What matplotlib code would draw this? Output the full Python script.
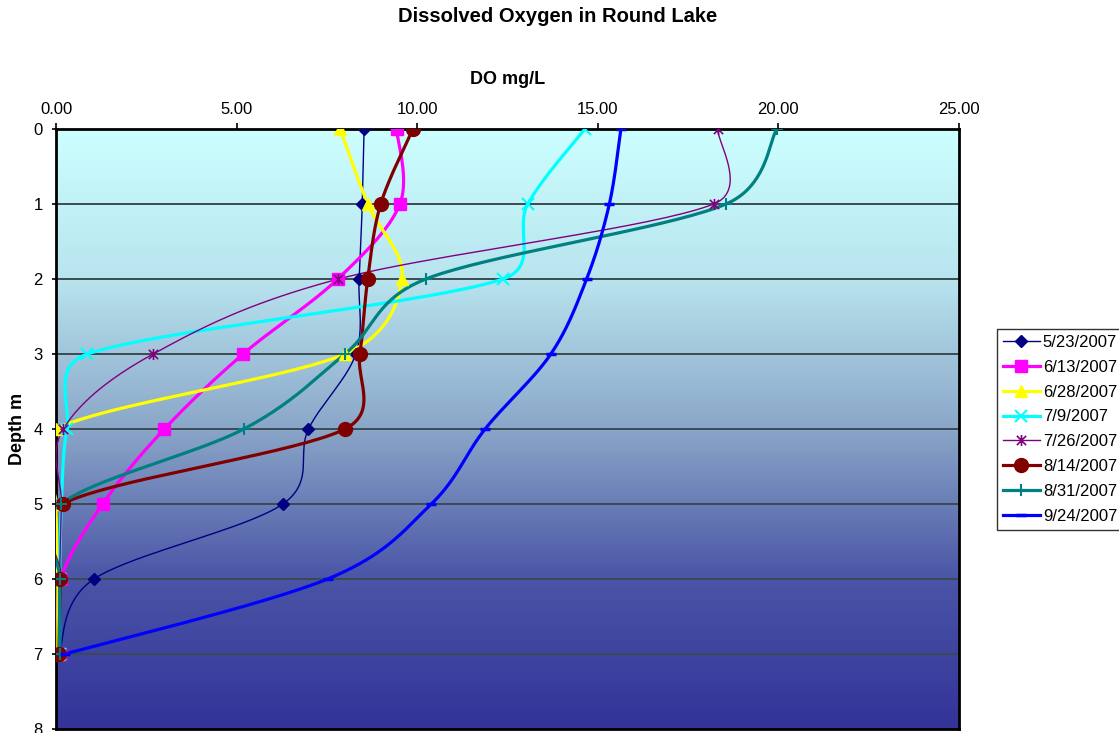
import numpy as np
import matplotlib.pyplot as plt
from matplotlib.colors import LinearSegmentedColormap
from matplotlib.path import Path

plt.rcParams["font.family"] = ["Liberation Sans", "DejaVu Sans"]

# Depth profile sampling (m)
depth = [0, 1, 2, 3, 4, 5, 6, 7]

# Dissolved oxygen readings (mg/L) per sampling date
dates = ["5/23/2007", "6/13/2007", "6/28/2007", "7/9/2007",
         "7/26/2007", "8/14/2007", "8/31/2007", "9/24/2007"]
do_0523 = [8.53, 8.48, 8.39, 8.30, 6.99, 6.28, 1.05, 0.08]
do_0613 = [9.43, 9.52, 7.80, 5.18, 3.00, 1.29, 0.14, 0.10]
do_0628 = [7.87, 8.63, 9.58, 8.00, 0.00, 0.00, 0.05, 0.05]
do_0709 = [14.64, 13.06, 12.37, 0.87, 0.30, 0.15, 0.10, 0.10]
do_0726 = [18.32, 18.21, 7.82, 2.69, 0.20, 0.15, 0.10, 0.10]
do_0814 = [9.88, 8.99, 8.63, 8.41, 8.00, 0.18, 0.12, 0.08]
do_0831 = [19.96, 18.55, 10.24, 8.00, 5.20, 0.14, 0.10, 0.10]
do_0924 = [15.64, 15.32, 14.69, 13.70, 11.88, 10.39, 7.52, 0.25]

series = [do_0523, do_0613, do_0628, do_0709, do_0726, do_0814, do_0831, do_0924]

# spreadsheet-style star: an x with a vertical stroke through it
star = Path([(-1, -1), (1, 1), (-1, 1), (1, -1), (0, -1.2), (0, 1.2)],
            [Path.MOVETO, Path.LINETO, Path.MOVETO, Path.LINETO, Path.MOVETO, Path.LINETO])

styles = [
    dict(color="#000080", lw=1.0, marker="D", ms=6),
    dict(color="#FF00FF", lw=2.3, marker="s", ms=9),
    dict(color="#FFFF00", lw=2.3, marker="^", ms=9),
    dict(color="#00FFFF", lw=2.3, marker="x", ms=8, mew=1.5),
    dict(color="#800080", lw=1.0, marker=star, ms=8, mew=1.2),
    dict(color="#800000", lw=2.3, marker="o", ms=10),
    dict(color="#008080", lw=2.3, marker="+", ms=9, mew=1.5),
    dict(color="#0000FF", lw=2.3, marker="_", ms=7, mew=2.5),
]

# screen scale (px per data unit) used when sizing the spline handles
PX_X, PX_Y = 36.1, 75.0


def smooth(xs, ys, n=40):
    """Bezier smoothing through every point; handle length capped at half the segment."""
    p = np.column_stack([np.asarray(xs) * PX_X, np.asarray(ys) * PX_Y]).astype(float)
    t = np.linspace(0, 1, n)[:, None]
    out = []
    for i in range(len(p) - 1):
        p1, p2 = p[i], p[i + 1]
        p0 = p[i - 1] if i > 0 else p1
        p3 = p[i + 2] if i + 2 < len(p) else p2
        d12 = np.hypot(*(p2 - p1))
        d02 = np.hypot(*(p2 - p0))
        d13 = np.hypot(*(p3 - p1))
        f1 = min(1 / 6, d12 / (2 * d02)) if d02 > 0 else 0.0
        f2 = min(1 / 6, d12 / (2 * d13)) if d13 > 0 else 0.0
        c1 = p1 + (p2 - p0) * f1
        c2 = p2 - (p3 - p1) * f2
        seg = (1 - t) ** 3 * p1 + 3 * (1 - t) ** 2 * t * c1 + 3 * (1 - t) * t ** 2 * c2 + t ** 3 * p2
        out.append(seg if i == 0 else seg[1:])
    out = np.vstack(out)
    return out[:, 0] / PX_X, out[:, 1] / PX_Y


fig = plt.figure(figsize=(11.19, 7.33), dpi=100)
ax = fig.add_axes([56 / 1119, 1 - 729 / 733, (959 - 56) / 1119, (729 - 129) / 733])

# gradient fill behind the plot area
cmap = LinearSegmentedColormap.from_list("lake", ["#CCFFFF", "#B8E4EE", "#8AA6C8", "#4A55A6", "#333399"])
grad = np.linspace(0, 1, 256).reshape(-1, 1)
ax.imshow(grad, cmap=cmap, aspect="auto", extent=[0, 25, 8, 0], zorder=0)

for d in range(1, 8):
    ax.axhline(d, color="#3c4a52", lw=1.4, zorder=1)

handles = []
for vals, label, st in zip(series, dates, styles):
    sx, sy = smooth(vals, depth)
    ax.plot(sx, sy, color=st["color"], lw=st["lw"], zorder=3)
    ax.plot(vals, depth, ls="none", marker=st["marker"], ms=st["ms"],
            color=st["color"], mec=st["color"], mew=st.get("mew", 1.0), zorder=4)
    h, = ax.plot([], [], color=st["color"], lw=st["lw"], marker=st["marker"],
                 ms=st["ms"], mew=st.get("mew", 1.0), label=label)
    handles.append(h)

ax.set_xlim(0, 25)
ax.set_ylim(8, 0)
ax.xaxis.tick_top()
ax.xaxis.set_label_position("top")
ax.set_xticks(np.arange(0, 26, 5))
ax.set_xticklabels([f"{v:.2f}" for v in np.arange(0, 26, 5)])
ax.set_yticks(range(0, 9))
ax.tick_params(axis="both", direction="out", width=1.2, labelsize=12, colors="black")
ax.tick_params(axis="x", length=4.5, pad=4)
ax.tick_params(axis="y", length=3, pad=6.5)
for s in ax.spines.values():
    s.set_linewidth(2.0)
    s.set_color("black")

ax.set_xlabel("DO mg/L", fontsize=13, fontweight="bold", labelpad=13)
ax.set_ylabel("Depth m", fontsize=13, fontweight="bold", labelpad=5)
fig.text(558 / 1119, 1 - 16 / 733, "Dissolved Oxygen in Round Lake",
         ha="center", va="center", fontsize=14.5, fontweight="bold")

leg = fig.legend(handles=handles, loc="upper left", bbox_to_anchor=(997 / 1119, 1 - 329 / 733),
                 frameon=True, fancybox=False, edgecolor="black", fontsize=12,
                 handlelength=2.2, handletextpad=0.2, labelspacing=0.59,
                 borderpad=0.35, borderaxespad=0)
leg.get_frame().set_linewidth(1.0)

fig.savefig("out.png", dpi=100)
